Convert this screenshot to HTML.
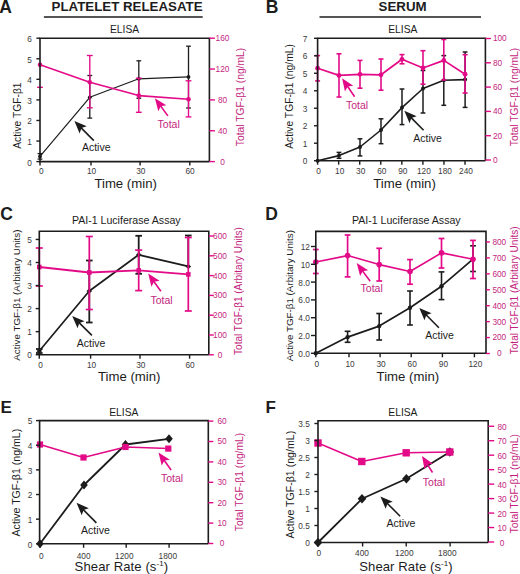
<!DOCTYPE html>
<html><head><meta charset="utf-8"><title>TGF-beta1 figure</title>
<style>
html,body{margin:0;padding:0;background:#fff;}
body{width:520px;height:574px;overflow:hidden;}
svg{display:block;font-family:"Liberation Sans", sans-serif;}
</style></head>
<body>
<svg width="520" height="574" viewBox="0 0 520 574">
<rect width="520" height="574" fill="#fff"/>

<line x1="40" y1="153.6" x2="40" y2="159.1" stroke="#1c1c1c" stroke-width="1.3" stroke-linecap="butt"/>
<line x1="37.6" y1="153.6" x2="42.4" y2="153.6" stroke="#1c1c1c" stroke-width="1.3" stroke-linecap="butt"/>
<line x1="37.6" y1="159.1" x2="42.4" y2="159.1" stroke="#1c1c1c" stroke-width="1.3" stroke-linecap="butt"/>
<line x1="89.8" y1="75.5" x2="89.8" y2="118.1" stroke="#1c1c1c" stroke-width="1.3" stroke-linecap="butt"/>
<line x1="87.4" y1="75.5" x2="92.2" y2="75.5" stroke="#1c1c1c" stroke-width="1.3" stroke-linecap="butt"/>
<line x1="87.4" y1="118.1" x2="92.2" y2="118.1" stroke="#1c1c1c" stroke-width="1.3" stroke-linecap="butt"/>
<line x1="138.8" y1="60.8" x2="138.8" y2="98.2" stroke="#1c1c1c" stroke-width="1.3" stroke-linecap="butt"/>
<line x1="136.4" y1="60.8" x2="141.2" y2="60.8" stroke="#1c1c1c" stroke-width="1.3" stroke-linecap="butt"/>
<line x1="136.4" y1="98.2" x2="141.2" y2="98.2" stroke="#1c1c1c" stroke-width="1.3" stroke-linecap="butt"/>
<line x1="188.5" y1="46.2" x2="188.5" y2="108" stroke="#1c1c1c" stroke-width="1.3" stroke-linecap="butt"/>
<line x1="186.1" y1="46.2" x2="190.9" y2="46.2" stroke="#1c1c1c" stroke-width="1.3" stroke-linecap="butt"/>
<line x1="186.1" y1="108" x2="190.9" y2="108" stroke="#1c1c1c" stroke-width="1.3" stroke-linecap="butt"/>
<line x1="339" y1="152.4" x2="339" y2="158.3" stroke="#1c1c1c" stroke-width="1.5" stroke-linecap="butt"/>
<line x1="336.6" y1="152.4" x2="341.4" y2="152.4" stroke="#1c1c1c" stroke-width="1.5" stroke-linecap="butt"/>
<line x1="336.6" y1="158.3" x2="341.4" y2="158.3" stroke="#1c1c1c" stroke-width="1.5" stroke-linecap="butt"/>
<line x1="360" y1="138.8" x2="360" y2="155.9" stroke="#1c1c1c" stroke-width="1.5" stroke-linecap="butt"/>
<line x1="357.6" y1="138.8" x2="362.4" y2="138.8" stroke="#1c1c1c" stroke-width="1.5" stroke-linecap="butt"/>
<line x1="357.6" y1="155.9" x2="362.4" y2="155.9" stroke="#1c1c1c" stroke-width="1.5" stroke-linecap="butt"/>
<line x1="381" y1="118.8" x2="381" y2="143.7" stroke="#1c1c1c" stroke-width="1.5" stroke-linecap="butt"/>
<line x1="378.6" y1="118.8" x2="383.4" y2="118.8" stroke="#1c1c1c" stroke-width="1.5" stroke-linecap="butt"/>
<line x1="378.6" y1="143.7" x2="383.4" y2="143.7" stroke="#1c1c1c" stroke-width="1.5" stroke-linecap="butt"/>
<line x1="402" y1="89" x2="402" y2="124.6" stroke="#1c1c1c" stroke-width="1.5" stroke-linecap="butt"/>
<line x1="399.6" y1="89" x2="404.4" y2="89" stroke="#1c1c1c" stroke-width="1.5" stroke-linecap="butt"/>
<line x1="399.6" y1="124.6" x2="404.4" y2="124.6" stroke="#1c1c1c" stroke-width="1.5" stroke-linecap="butt"/>
<line x1="423" y1="70.5" x2="423" y2="113" stroke="#1c1c1c" stroke-width="1.5" stroke-linecap="butt"/>
<line x1="420.6" y1="70.5" x2="425.4" y2="70.5" stroke="#1c1c1c" stroke-width="1.5" stroke-linecap="butt"/>
<line x1="420.6" y1="113" x2="425.4" y2="113" stroke="#1c1c1c" stroke-width="1.5" stroke-linecap="butt"/>
<line x1="443.8" y1="55.6" x2="443.8" y2="105.3" stroke="#1c1c1c" stroke-width="1.5" stroke-linecap="butt"/>
<line x1="441.4" y1="55.6" x2="446.2" y2="55.6" stroke="#1c1c1c" stroke-width="1.5" stroke-linecap="butt"/>
<line x1="441.4" y1="105.3" x2="446.2" y2="105.3" stroke="#1c1c1c" stroke-width="1.5" stroke-linecap="butt"/>
<line x1="465.1" y1="52" x2="465.1" y2="107.4" stroke="#1c1c1c" stroke-width="1.5" stroke-linecap="butt"/>
<line x1="462.7" y1="52" x2="467.5" y2="52" stroke="#1c1c1c" stroke-width="1.5" stroke-linecap="butt"/>
<line x1="462.7" y1="107.4" x2="467.5" y2="107.4" stroke="#1c1c1c" stroke-width="1.5" stroke-linecap="butt"/>
<line x1="39.3" y1="349" x2="39.3" y2="353" stroke="#1c1c1c" stroke-width="1.8" stroke-linecap="butt"/>
<line x1="36" y1="349" x2="42.6" y2="349" stroke="#1c1c1c" stroke-width="1.8" stroke-linecap="butt"/>
<line x1="36" y1="353" x2="42.6" y2="353" stroke="#1c1c1c" stroke-width="1.8" stroke-linecap="butt"/>
<line x1="89.3" y1="260.5" x2="89.3" y2="322.5" stroke="#1c1c1c" stroke-width="1.8" stroke-linecap="butt"/>
<line x1="86" y1="260.5" x2="92.6" y2="260.5" stroke="#1c1c1c" stroke-width="1.8" stroke-linecap="butt"/>
<line x1="86" y1="322.5" x2="92.6" y2="322.5" stroke="#1c1c1c" stroke-width="1.8" stroke-linecap="butt"/>
<line x1="138.7" y1="235.8" x2="138.7" y2="273.8" stroke="#1c1c1c" stroke-width="1.8" stroke-linecap="butt"/>
<line x1="135.4" y1="235.8" x2="142" y2="235.8" stroke="#1c1c1c" stroke-width="1.8" stroke-linecap="butt"/>
<line x1="135.4" y1="273.8" x2="142" y2="273.8" stroke="#1c1c1c" stroke-width="1.8" stroke-linecap="butt"/>
<line x1="188.3" y1="235.5" x2="188.3" y2="266.4" stroke="#1c1c1c" stroke-width="1.8"/>
<line x1="185" y1="235.5" x2="191.6" y2="235.5" stroke="#1c1c1c" stroke-width="1.8"/>
<line x1="347.6" y1="331.3" x2="347.6" y2="342.3" stroke="#1c1c1c" stroke-width="1.6" stroke-linecap="butt"/>
<line x1="344.7" y1="331.3" x2="350.5" y2="331.3" stroke="#1c1c1c" stroke-width="1.6" stroke-linecap="butt"/>
<line x1="344.7" y1="342.3" x2="350.5" y2="342.3" stroke="#1c1c1c" stroke-width="1.6" stroke-linecap="butt"/>
<line x1="379.2" y1="313.5" x2="379.2" y2="340" stroke="#1c1c1c" stroke-width="1.6" stroke-linecap="butt"/>
<line x1="376.3" y1="313.5" x2="382.1" y2="313.5" stroke="#1c1c1c" stroke-width="1.6" stroke-linecap="butt"/>
<line x1="376.3" y1="340" x2="382.1" y2="340" stroke="#1c1c1c" stroke-width="1.6" stroke-linecap="butt"/>
<line x1="410" y1="291" x2="410" y2="325" stroke="#1c1c1c" stroke-width="1.6" stroke-linecap="butt"/>
<line x1="407.1" y1="291" x2="412.9" y2="291" stroke="#1c1c1c" stroke-width="1.6" stroke-linecap="butt"/>
<line x1="407.1" y1="325" x2="412.9" y2="325" stroke="#1c1c1c" stroke-width="1.6" stroke-linecap="butt"/>
<line x1="441.5" y1="271.9" x2="441.5" y2="299.6" stroke="#1c1c1c" stroke-width="1.6" stroke-linecap="butt"/>
<line x1="438.6" y1="271.9" x2="444.4" y2="271.9" stroke="#1c1c1c" stroke-width="1.6" stroke-linecap="butt"/>
<line x1="438.6" y1="299.6" x2="444.4" y2="299.6" stroke="#1c1c1c" stroke-width="1.6" stroke-linecap="butt"/>
<line x1="473" y1="245.8" x2="473" y2="271.5" stroke="#1c1c1c" stroke-width="1.6" stroke-linecap="butt"/>
<line x1="470.1" y1="245.8" x2="475.9" y2="245.8" stroke="#1c1c1c" stroke-width="1.6" stroke-linecap="butt"/>
<line x1="470.1" y1="271.5" x2="475.9" y2="271.5" stroke="#1c1c1c" stroke-width="1.6" stroke-linecap="butt"/>
<polyline points="40,156.4 89.8,97.3 138.8,78.8 188.5,76.9" fill="none" stroke="#1c1c1c" stroke-width="1.2" stroke-linejoin="round"/>
<polyline points="317.6,160.7 339,155.6 360,147 381,130 402,107.6 423,88.5 443.8,80.3 465.1,79.6" fill="none" stroke="#1c1c1c" stroke-width="1.6" stroke-linejoin="round"/>
<polyline points="39.3,351 89.3,291 138.7,254.8 188.3,266.4" fill="none" stroke="#1c1c1c" stroke-width="1.7" stroke-linejoin="round"/>
<polyline points="315.8,353.3 347.6,337.1 379.2,326.1 410,307.7 441.5,286.2 473,259.2" fill="none" stroke="#1c1c1c" stroke-width="1.7" stroke-linejoin="round"/>
<polyline points="40,543.8 84,485 125.5,444.5 169,438.8" fill="none" stroke="#1c1c1c" stroke-width="1.8" stroke-linejoin="round"/>
<polyline points="318,542.5 362,498.8 406.4,478.8 449.8,452" fill="none" stroke="#1c1c1c" stroke-width="1.8" stroke-linejoin="round"/>
<circle cx="40" cy="156.4" r="1.9" fill="#1c1c1c"/>
<circle cx="89.8" cy="97.3" r="1.9" fill="#1c1c1c"/>
<circle cx="138.8" cy="78.8" r="1.9" fill="#1c1c1c"/>
<circle cx="188.5" cy="76.9" r="1.9" fill="#1c1c1c"/>
<circle cx="317.6" cy="160.7" r="2.0" fill="#1c1c1c"/>
<circle cx="339" cy="155.6" r="2.0" fill="#1c1c1c"/>
<circle cx="360" cy="147" r="2.0" fill="#1c1c1c"/>
<circle cx="381" cy="130" r="2.0" fill="#1c1c1c"/>
<circle cx="402" cy="107.6" r="2.0" fill="#1c1c1c"/>
<circle cx="423" cy="88.5" r="2.0" fill="#1c1c1c"/>
<circle cx="443.8" cy="80.3" r="2.0" fill="#1c1c1c"/>
<circle cx="465.1" cy="79.6" r="2.0" fill="#1c1c1c"/>
<polygon points="39.3,348.5 42.1,351 39.3,353.5 36.5,351" fill="#1c1c1c"/>
<polygon points="89.3,288.5 92.1,291 89.3,293.5 86.5,291" fill="#1c1c1c"/>
<polygon points="138.7,252.3 141.5,254.8 138.7,257.3 135.9,254.8" fill="#1c1c1c"/>
<polygon points="188.3,263.9 191.1,266.4 188.3,268.9 185.5,266.4" fill="#1c1c1c"/>
<circle cx="315.8" cy="353.3" r="2.2" fill="#1c1c1c"/>
<circle cx="347.6" cy="337.1" r="2.2" fill="#1c1c1c"/>
<circle cx="379.2" cy="326.1" r="2.2" fill="#1c1c1c"/>
<circle cx="410" cy="307.7" r="2.2" fill="#1c1c1c"/>
<circle cx="441.5" cy="286.2" r="2.2" fill="#1c1c1c"/>
<circle cx="473" cy="259.2" r="2.2" fill="#1c1c1c"/>
<polygon points="40,539.3 43.8,543.8 40,548.3 36.2,543.8" fill="#1c1c1c"/>
<polygon points="84,480.5 87.8,485 84,489.5 80.2,485" fill="#1c1c1c"/>
<polygon points="125.5,440 129.3,444.5 125.5,449 121.7,444.5" fill="#1c1c1c"/>
<polygon points="169,434.3 172.8,438.8 169,443.3 165.2,438.8" fill="#1c1c1c"/>
<polygon points="318,537.8 322.3,542.5 318,547.2 313.7,542.5" fill="#1c1c1c"/>
<polygon points="362,494.1 366.3,498.8 362,503.5 357.7,498.8" fill="#1c1c1c"/>
<polygon points="406.4,474.1 410.7,478.8 406.4,483.5 402.1,478.8" fill="#1c1c1c"/>
<polygon points="449.8,447.3 454.1,452 449.8,456.7 445.5,452" fill="#1c1c1c"/>
<line x1="37.1" y1="87.3" x2="42.9" y2="87.3" stroke="#e30a88" stroke-width="1.35" stroke-linecap="butt"/>
<line x1="89.8" y1="55.5" x2="89.8" y2="107.8" stroke="#e30a88" stroke-width="1.35" stroke-linecap="butt"/>
<line x1="86.9" y1="55.5" x2="92.7" y2="55.5" stroke="#e30a88" stroke-width="1.35" stroke-linecap="butt"/>
<line x1="86.9" y1="107.8" x2="92.7" y2="107.8" stroke="#e30a88" stroke-width="1.35" stroke-linecap="butt"/>
<line x1="138.8" y1="78.2" x2="138.8" y2="112.3" stroke="#e30a88" stroke-width="1.35" stroke-linecap="butt"/>
<line x1="135.9" y1="78.2" x2="141.7" y2="78.2" stroke="#e30a88" stroke-width="1.35" stroke-linecap="butt"/>
<line x1="135.9" y1="112.3" x2="141.7" y2="112.3" stroke="#e30a88" stroke-width="1.35" stroke-linecap="butt"/>
<line x1="188.5" y1="80.8" x2="188.5" y2="116.9" stroke="#e30a88" stroke-width="1.35" stroke-linecap="butt"/>
<line x1="185.6" y1="80.8" x2="191.4" y2="80.8" stroke="#e30a88" stroke-width="1.35" stroke-linecap="butt"/>
<line x1="185.6" y1="116.9" x2="191.4" y2="116.9" stroke="#e30a88" stroke-width="1.35" stroke-linecap="butt"/>
<line x1="317.6" y1="55.6" x2="317.6" y2="80.9" stroke="#e30a88" stroke-width="1.6" stroke-linecap="butt"/>
<line x1="315.1" y1="55.6" x2="320.1" y2="55.6" stroke="#e30a88" stroke-width="1.6" stroke-linecap="butt"/>
<line x1="315.1" y1="80.9" x2="320.1" y2="80.9" stroke="#e30a88" stroke-width="1.6" stroke-linecap="butt"/>
<line x1="339" y1="53.8" x2="339" y2="97" stroke="#e30a88" stroke-width="1.6" stroke-linecap="butt"/>
<line x1="336.5" y1="53.8" x2="341.5" y2="53.8" stroke="#e30a88" stroke-width="1.6" stroke-linecap="butt"/>
<line x1="336.5" y1="97" x2="341.5" y2="97" stroke="#e30a88" stroke-width="1.6" stroke-linecap="butt"/>
<line x1="360" y1="60.4" x2="360" y2="88.2" stroke="#e30a88" stroke-width="1.6" stroke-linecap="butt"/>
<line x1="357.5" y1="60.4" x2="362.5" y2="60.4" stroke="#e30a88" stroke-width="1.6" stroke-linecap="butt"/>
<line x1="357.5" y1="88.2" x2="362.5" y2="88.2" stroke="#e30a88" stroke-width="1.6" stroke-linecap="butt"/>
<line x1="381" y1="59" x2="381" y2="90.2" stroke="#e30a88" stroke-width="1.6" stroke-linecap="butt"/>
<line x1="378.5" y1="59" x2="383.5" y2="59" stroke="#e30a88" stroke-width="1.6" stroke-linecap="butt"/>
<line x1="378.5" y1="90.2" x2="383.5" y2="90.2" stroke="#e30a88" stroke-width="1.6" stroke-linecap="butt"/>
<line x1="402" y1="54.6" x2="402" y2="63.8" stroke="#e30a88" stroke-width="1.6" stroke-linecap="butt"/>
<line x1="399.5" y1="54.6" x2="404.5" y2="54.6" stroke="#e30a88" stroke-width="1.6" stroke-linecap="butt"/>
<line x1="399.5" y1="63.8" x2="404.5" y2="63.8" stroke="#e30a88" stroke-width="1.6" stroke-linecap="butt"/>
<line x1="423" y1="50.7" x2="423" y2="84.2" stroke="#e30a88" stroke-width="1.6" stroke-linecap="butt"/>
<line x1="420.5" y1="50.7" x2="425.5" y2="50.7" stroke="#e30a88" stroke-width="1.6" stroke-linecap="butt"/>
<line x1="420.5" y1="84.2" x2="425.5" y2="84.2" stroke="#e30a88" stroke-width="1.6" stroke-linecap="butt"/>
<line x1="443.8" y1="39.5" x2="443.8" y2="80" stroke="#e30a88" stroke-width="1.6" stroke-linecap="butt"/>
<line x1="441.3" y1="39.5" x2="446.3" y2="39.5" stroke="#e30a88" stroke-width="1.6" stroke-linecap="butt"/>
<line x1="441.3" y1="80" x2="446.3" y2="80" stroke="#e30a88" stroke-width="1.6" stroke-linecap="butt"/>
<line x1="465.1" y1="54.7" x2="465.1" y2="93" stroke="#e30a88" stroke-width="1.6" stroke-linecap="butt"/>
<line x1="462.6" y1="54.7" x2="467.6" y2="54.7" stroke="#e30a88" stroke-width="1.6" stroke-linecap="butt"/>
<line x1="462.6" y1="93" x2="467.6" y2="93" stroke="#e30a88" stroke-width="1.6" stroke-linecap="butt"/>
<line x1="39.3" y1="248" x2="39.3" y2="286" stroke="#e30a88" stroke-width="1.7" stroke-linecap="butt"/>
<line x1="35.8" y1="248" x2="42.8" y2="248" stroke="#e30a88" stroke-width="1.7" stroke-linecap="butt"/>
<line x1="35.8" y1="286" x2="42.8" y2="286" stroke="#e30a88" stroke-width="1.7" stroke-linecap="butt"/>
<line x1="89.3" y1="236.5" x2="89.3" y2="309.5" stroke="#e30a88" stroke-width="1.7" stroke-linecap="butt"/>
<line x1="85.8" y1="236.5" x2="92.8" y2="236.5" stroke="#e30a88" stroke-width="1.7" stroke-linecap="butt"/>
<line x1="85.8" y1="309.5" x2="92.8" y2="309.5" stroke="#e30a88" stroke-width="1.7" stroke-linecap="butt"/>
<line x1="138.7" y1="250.1" x2="138.7" y2="290.6" stroke="#e30a88" stroke-width="1.7" stroke-linecap="butt"/>
<line x1="135.2" y1="250.1" x2="142.2" y2="250.1" stroke="#e30a88" stroke-width="1.7" stroke-linecap="butt"/>
<line x1="135.2" y1="290.6" x2="142.2" y2="290.6" stroke="#e30a88" stroke-width="1.7" stroke-linecap="butt"/>
<line x1="188.3" y1="237.5" x2="188.3" y2="311" stroke="#e30a88" stroke-width="1.7" stroke-linecap="butt"/>
<line x1="184.8" y1="237.5" x2="191.8" y2="237.5" stroke="#e30a88" stroke-width="1.7" stroke-linecap="butt"/>
<line x1="184.8" y1="311" x2="191.8" y2="311" stroke="#e30a88" stroke-width="1.7" stroke-linecap="butt"/>
<line x1="315.8" y1="249.5" x2="315.8" y2="273.5" stroke="#e30a88" stroke-width="1.7" stroke-linecap="butt"/>
<line x1="312.9" y1="249.5" x2="318.7" y2="249.5" stroke="#e30a88" stroke-width="1.7" stroke-linecap="butt"/>
<line x1="312.9" y1="273.5" x2="318.7" y2="273.5" stroke="#e30a88" stroke-width="1.7" stroke-linecap="butt"/>
<line x1="347.6" y1="235" x2="347.6" y2="276.9" stroke="#e30a88" stroke-width="1.7" stroke-linecap="butt"/>
<line x1="344.7" y1="235" x2="350.5" y2="235" stroke="#e30a88" stroke-width="1.7" stroke-linecap="butt"/>
<line x1="344.7" y1="276.9" x2="350.5" y2="276.9" stroke="#e30a88" stroke-width="1.7" stroke-linecap="butt"/>
<line x1="379.2" y1="248.3" x2="379.2" y2="281" stroke="#e30a88" stroke-width="1.7" stroke-linecap="butt"/>
<line x1="376.3" y1="248.3" x2="382.1" y2="248.3" stroke="#e30a88" stroke-width="1.7" stroke-linecap="butt"/>
<line x1="376.3" y1="281" x2="382.1" y2="281" stroke="#e30a88" stroke-width="1.7" stroke-linecap="butt"/>
<line x1="410" y1="259.6" x2="410" y2="284.2" stroke="#e30a88" stroke-width="1.7" stroke-linecap="butt"/>
<line x1="407.1" y1="259.6" x2="412.9" y2="259.6" stroke="#e30a88" stroke-width="1.7" stroke-linecap="butt"/>
<line x1="407.1" y1="284.2" x2="412.9" y2="284.2" stroke="#e30a88" stroke-width="1.7" stroke-linecap="butt"/>
<line x1="441.5" y1="238.5" x2="441.5" y2="268" stroke="#e30a88" stroke-width="1.7" stroke-linecap="butt"/>
<line x1="438.6" y1="238.5" x2="444.4" y2="238.5" stroke="#e30a88" stroke-width="1.7" stroke-linecap="butt"/>
<line x1="438.6" y1="268" x2="444.4" y2="268" stroke="#e30a88" stroke-width="1.7" stroke-linecap="butt"/>
<line x1="473" y1="240.4" x2="473" y2="278.5" stroke="#e30a88" stroke-width="1.7" stroke-linecap="butt"/>
<line x1="470.1" y1="240.4" x2="475.9" y2="240.4" stroke="#e30a88" stroke-width="1.7" stroke-linecap="butt"/>
<line x1="470.1" y1="278.5" x2="475.9" y2="278.5" stroke="#e30a88" stroke-width="1.7" stroke-linecap="butt"/>
<polyline points="40,64.8 89.8,82.2 138.8,95.6 188.5,99.2" fill="none" stroke="#e30a88" stroke-width="1.6" stroke-linejoin="round"/>
<polyline points="317.6,68.2 339,75.4 360,74.3 381,74.8 402,59.3 423,68 443.8,60.4 465.1,74.2" fill="none" stroke="#e30a88" stroke-width="1.7" stroke-linejoin="round"/>
<polyline points="39.3,267 89.3,272.5 138.7,270.4 188.3,274.4" fill="none" stroke="#e30a88" stroke-width="1.8" stroke-linejoin="round"/>
<polyline points="315.8,262 347.6,255.6 379.2,264.6 410,271.5 441.5,252.9 473,259.2" fill="none" stroke="#e30a88" stroke-width="1.6" stroke-linejoin="round"/>
<polyline points="40,444.5 83.5,457.5 125.5,447 168.3,448.6" fill="none" stroke="#e30a88" stroke-width="1.5" stroke-linejoin="round"/>
<polyline points="318,443 361.8,461.5 406.2,452.8 449.8,452" fill="none" stroke="#e30a88" stroke-width="1.5" stroke-linejoin="round"/>
<circle cx="40" cy="64.8" r="2.3" fill="#e30a88"/>
<circle cx="89.8" cy="82.2" r="2.3" fill="#e30a88"/>
<circle cx="138.8" cy="95.6" r="2.3" fill="#e30a88"/>
<circle cx="188.5" cy="99.2" r="2.3" fill="#e30a88"/>
<circle cx="317.6" cy="68.2" r="2.4" fill="#e30a88"/>
<circle cx="339" cy="75.4" r="2.4" fill="#e30a88"/>
<circle cx="360" cy="74.3" r="2.4" fill="#e30a88"/>
<circle cx="381" cy="74.8" r="2.4" fill="#e30a88"/>
<circle cx="402" cy="59.3" r="2.4" fill="#e30a88"/>
<circle cx="423" cy="68" r="2.4" fill="#e30a88"/>
<circle cx="443.8" cy="60.4" r="2.4" fill="#e30a88"/>
<circle cx="465.1" cy="74.2" r="2.4" fill="#e30a88"/>
<rect x="37" y="264.7" width="4.6" height="4.6" fill="#e30a88"/>
<rect x="87" y="270.2" width="4.6" height="4.6" fill="#e30a88"/>
<rect x="136.4" y="268.1" width="4.6" height="4.6" fill="#e30a88"/>
<rect x="186" y="272.1" width="4.6" height="4.6" fill="#e30a88"/>
<circle cx="315.8" cy="262" r="2.8" fill="#e30a88"/>
<circle cx="347.6" cy="255.6" r="2.8" fill="#e30a88"/>
<circle cx="379.2" cy="264.6" r="2.8" fill="#e30a88"/>
<circle cx="410" cy="271.5" r="2.8" fill="#e30a88"/>
<circle cx="441.5" cy="252.9" r="2.8" fill="#e30a88"/>
<circle cx="473" cy="259.2" r="2.8" fill="#e30a88"/>
<rect x="36.9" y="441.4" width="6.2" height="6.2" fill="#e30a88"/>
<rect x="80.4" y="454.4" width="6.2" height="6.2" fill="#e30a88"/>
<rect x="122.4" y="443.9" width="6.2" height="6.2" fill="#e30a88"/>
<rect x="165.2" y="445.5" width="6.2" height="6.2" fill="#e30a88"/>
<rect x="314.3" y="439.3" width="7.4" height="7.4" fill="#e30a88"/>
<rect x="358.1" y="457.8" width="7.4" height="7.4" fill="#e30a88"/>
<rect x="402.5" y="449.1" width="7.4" height="7.4" fill="#e30a88"/>
<rect x="446.1" y="448.3" width="7.4" height="7.4" fill="#e30a88"/>



<path d="M209.4,161.6 L40,161.6 L40,38.2 L209.4,38.2 L209.4,161.6" fill="none" stroke="#1c1c1c" stroke-width="1.6" stroke-linejoin="miter"/>
<path d="M485.4,160.7 L317.6,160.7 L317.6,38.3 L485.4,38.3 L485.4,160.7" fill="none" stroke="#1c1c1c" stroke-width="1.6" stroke-linejoin="miter"/>
<path d="M208.8,354.7 L39.3,354.7 L39.3,231.2 L208.8,231.2 L208.8,354.7" fill="none" stroke="#1c1c1c" stroke-width="1.6" stroke-linejoin="miter"/>
<path d="M486,353.3 L315.8,353.3 L315.8,231.4 L486,231.4 L486,353.3" fill="none" stroke="#1c1c1c" stroke-width="1.6" stroke-linejoin="miter"/>
<path d="M208.3,543.8 L39.6,543.8 L39.6,420.6 L208.3,420.6 L208.3,543.8" fill="none" stroke="#1c1c1c" stroke-width="1.6" stroke-linejoin="miter"/>
<path d="M488.2,542.5 L318,542.5 L318,420.8 L488.2,420.8 L488.2,542.5" fill="none" stroke="#1c1c1c" stroke-width="1.6" stroke-linejoin="miter"/>
<text x="-0.8" y="12.5" font-size="17.5" fill="#1c1c1c" text-anchor="start" font-weight="bold">A</text>
<text x="265.8" y="12.5" font-size="17.5" fill="#1c1c1c" text-anchor="start" font-weight="bold">B</text>
<text x="0.2" y="220.2" font-size="17.5" fill="#1c1c1c" text-anchor="start" font-weight="bold">C</text>
<text x="265.2" y="220.2" font-size="17.5" fill="#1c1c1c" text-anchor="start" font-weight="bold">D</text>
<text x="0.5" y="412.6" font-size="17.0" fill="#1c1c1c" text-anchor="start" font-weight="bold">E</text>
<text x="265.5" y="412.6" font-size="17.0" fill="#1c1c1c" text-anchor="start" font-weight="bold">F</text>
<text x="51.6" y="11" font-size="13.3" fill="#1c1c1c" text-anchor="start" font-weight="bold">PLATELET RELEASATE</text>
<line x1="43.9" y1="17" x2="202.7" y2="17" stroke="#1c1c1c" stroke-width="1.6" stroke-linecap="butt"/>
<text x="378.6" y="11" font-size="13.3" fill="#1c1c1c" text-anchor="start" font-weight="bold">SERUM</text>
<line x1="319.5" y1="17" x2="481" y2="17" stroke="#1c1c1c" stroke-width="1.6" stroke-linecap="butt"/>
<text x="110" y="33.2" font-size="10.3" fill="#1c1c1c" text-anchor="start" font-weight="normal">ELISA</text>
<line x1="36.4" y1="161.6" x2="40" y2="161.6" stroke="#1c1c1c" stroke-width="1.4" stroke-linecap="butt"/>
<text x="29.6" y="165.5" font-size="8.3" fill="#3a3a3a" text-anchor="middle" font-weight="normal">0</text>
<line x1="36.4" y1="141.03" x2="40" y2="141.03" stroke="#1c1c1c" stroke-width="1.4" stroke-linecap="butt"/>
<text x="29.6" y="144.93" font-size="8.3" fill="#3a3a3a" text-anchor="middle" font-weight="normal">1</text>
<line x1="36.4" y1="120.47" x2="40" y2="120.47" stroke="#1c1c1c" stroke-width="1.4" stroke-linecap="butt"/>
<text x="29.6" y="124.37" font-size="8.3" fill="#3a3a3a" text-anchor="middle" font-weight="normal">2</text>
<line x1="36.4" y1="99.9" x2="40" y2="99.9" stroke="#1c1c1c" stroke-width="1.4" stroke-linecap="butt"/>
<text x="29.6" y="103.8" font-size="8.3" fill="#3a3a3a" text-anchor="middle" font-weight="normal">3</text>
<line x1="36.4" y1="79.33" x2="40" y2="79.33" stroke="#1c1c1c" stroke-width="1.4" stroke-linecap="butt"/>
<text x="29.6" y="83.23" font-size="8.3" fill="#3a3a3a" text-anchor="middle" font-weight="normal">4</text>
<line x1="36.4" y1="58.77" x2="40" y2="58.77" stroke="#1c1c1c" stroke-width="1.4" stroke-linecap="butt"/>
<text x="29.6" y="62.67" font-size="8.3" fill="#3a3a3a" text-anchor="middle" font-weight="normal">5</text>
<line x1="36.4" y1="38.2" x2="40" y2="38.2" stroke="#1c1c1c" stroke-width="1.4" stroke-linecap="butt"/>
<text x="29.6" y="42.1" font-size="8.3" fill="#3a3a3a" text-anchor="middle" font-weight="normal">6</text>
<line x1="209.4" y1="161.6" x2="214.9" y2="161.6" stroke="#e30a88" stroke-width="1.4" stroke-linecap="butt"/>
<text x="222.5" y="164.5" font-size="8.3" fill="#c41f80" text-anchor="middle" font-weight="normal">0</text>
<line x1="209.4" y1="130.75" x2="214.9" y2="130.75" stroke="#e30a88" stroke-width="1.4" stroke-linecap="butt"/>
<text x="222.5" y="133.65" font-size="8.3" fill="#c41f80" text-anchor="middle" font-weight="normal">40</text>
<line x1="209.4" y1="99.9" x2="214.9" y2="99.9" stroke="#e30a88" stroke-width="1.4" stroke-linecap="butt"/>
<text x="222.5" y="102.8" font-size="8.3" fill="#c41f80" text-anchor="middle" font-weight="normal">80</text>
<line x1="209.4" y1="69.05" x2="214.9" y2="69.05" stroke="#e30a88" stroke-width="1.4" stroke-linecap="butt"/>
<text x="222.5" y="71.95" font-size="8.3" fill="#c41f80" text-anchor="middle" font-weight="normal">120</text>
<line x1="209.4" y1="38.2" x2="214.9" y2="38.2" stroke="#e30a88" stroke-width="1.4" stroke-linecap="butt"/>
<text x="222.5" y="41.1" font-size="8.3" fill="#c41f80" text-anchor="middle" font-weight="normal">160</text>
<line x1="40" y1="161.6" x2="40" y2="165.6" stroke="#1c1c1c" stroke-width="1.4" stroke-linecap="butt"/>
<text x="41.3" y="174.4" font-size="8.3" fill="#3a3a3a" text-anchor="middle" font-weight="normal">0</text>
<line x1="91" y1="161.6" x2="91" y2="165.6" stroke="#1c1c1c" stroke-width="1.4" stroke-linecap="butt"/>
<text x="91.6" y="174.4" font-size="8.3" fill="#3a3a3a" text-anchor="middle" font-weight="normal">10</text>
<line x1="140.1" y1="161.6" x2="140.1" y2="165.6" stroke="#1c1c1c" stroke-width="1.4" stroke-linecap="butt"/>
<text x="140.8" y="174.4" font-size="8.3" fill="#3a3a3a" text-anchor="middle" font-weight="normal">30</text>
<line x1="189.8" y1="161.6" x2="189.8" y2="165.6" stroke="#1c1c1c" stroke-width="1.4" stroke-linecap="butt"/>
<text x="190" y="174.4" font-size="8.3" fill="#3a3a3a" text-anchor="middle" font-weight="normal">60</text>
<text x="94.4" y="187.9" font-size="13.2" fill="#1c1c1c" text-anchor="start" font-weight="normal">Time (min)</text>
<text x="0" y="0" transform="translate(17,115.6) rotate(-90)" font-size="10.3" fill="#1c1c1c" text-anchor="middle" font-weight="normal" dominant-baseline="central">Active TGF-&#946;1</text>
<text x="0" y="0" transform="translate(240,97) rotate(-90)" font-size="10.3" fill="#c41f80" text-anchor="middle" font-weight="normal" dominant-baseline="central">Total TGF-&#946;1 (ng/mL)</text>
<line x1="79.68" y1="126.33" x2="93.8" y2="140.6" stroke="#1c1c1c" stroke-width="1.6" stroke-linecap="butt"/>
<polygon points="74.4,121 79.64,133.4 81.43,128.11 86.75,126.37" fill="#1c1c1c"/>
<text x="81.9" y="151.1" font-size="10.5" fill="#1c1c1c" text-anchor="start" font-weight="normal">Active</text>
<line x1="159.34" y1="104.24" x2="167.9" y2="115.9" stroke="#e30a88" stroke-width="1.6" stroke-linecap="butt"/>
<polygon points="154.9,98.2 158.27,111.23 160.82,106.26 166.33,105.31" fill="#e30a88"/>
<text x="157.6" y="127.8" font-size="10.5" fill="#c41f80" text-anchor="start" font-weight="normal">Total</text>
<text x="388.2" y="33.2" font-size="10.3" fill="#1c1c1c" text-anchor="start" font-weight="normal">ELISA</text>
<line x1="314" y1="160.7" x2="317.6" y2="160.7" stroke="#1c1c1c" stroke-width="1.4" stroke-linecap="butt"/>
<text x="305" y="164.1" font-size="8.3" fill="#3a3a3a" text-anchor="middle" font-weight="normal">0</text>
<line x1="314" y1="143.21" x2="317.6" y2="143.21" stroke="#1c1c1c" stroke-width="1.4" stroke-linecap="butt"/>
<text x="305" y="146.61" font-size="8.3" fill="#3a3a3a" text-anchor="middle" font-weight="normal">1</text>
<line x1="314" y1="125.73" x2="317.6" y2="125.73" stroke="#1c1c1c" stroke-width="1.4" stroke-linecap="butt"/>
<text x="305" y="129.13" font-size="8.3" fill="#3a3a3a" text-anchor="middle" font-weight="normal">2</text>
<line x1="314" y1="108.24" x2="317.6" y2="108.24" stroke="#1c1c1c" stroke-width="1.4" stroke-linecap="butt"/>
<text x="305" y="111.64" font-size="8.3" fill="#3a3a3a" text-anchor="middle" font-weight="normal">3</text>
<line x1="314" y1="90.76" x2="317.6" y2="90.76" stroke="#1c1c1c" stroke-width="1.4" stroke-linecap="butt"/>
<text x="305" y="94.16" font-size="8.3" fill="#3a3a3a" text-anchor="middle" font-weight="normal">4</text>
<line x1="314" y1="73.27" x2="317.6" y2="73.27" stroke="#1c1c1c" stroke-width="1.4" stroke-linecap="butt"/>
<text x="305" y="76.67" font-size="8.3" fill="#3a3a3a" text-anchor="middle" font-weight="normal">5</text>
<line x1="314" y1="55.79" x2="317.6" y2="55.79" stroke="#1c1c1c" stroke-width="1.4" stroke-linecap="butt"/>
<text x="305" y="59.19" font-size="8.3" fill="#3a3a3a" text-anchor="middle" font-weight="normal">6</text>
<line x1="314" y1="38.3" x2="317.6" y2="38.3" stroke="#1c1c1c" stroke-width="1.4" stroke-linecap="butt"/>
<text x="305" y="41.7" font-size="8.3" fill="#3a3a3a" text-anchor="middle" font-weight="normal">7</text>
<line x1="485.4" y1="160" x2="490.9" y2="160" stroke="#e30a88" stroke-width="1.4" stroke-linecap="butt"/>
<text x="492.9" y="162.9" font-size="8.3" fill="#c41f80" text-anchor="start" font-weight="normal">0</text>
<line x1="485.4" y1="135.7" x2="490.9" y2="135.7" stroke="#e30a88" stroke-width="1.4" stroke-linecap="butt"/>
<text x="492.9" y="138.6" font-size="8.3" fill="#c41f80" text-anchor="start" font-weight="normal">20</text>
<line x1="485.4" y1="111.4" x2="490.9" y2="111.4" stroke="#e30a88" stroke-width="1.4" stroke-linecap="butt"/>
<text x="492.9" y="114.3" font-size="8.3" fill="#c41f80" text-anchor="start" font-weight="normal">40</text>
<line x1="485.4" y1="87.1" x2="490.9" y2="87.1" stroke="#e30a88" stroke-width="1.4" stroke-linecap="butt"/>
<text x="492.9" y="90" font-size="8.3" fill="#c41f80" text-anchor="start" font-weight="normal">60</text>
<line x1="485.4" y1="62.8" x2="490.9" y2="62.8" stroke="#e30a88" stroke-width="1.4" stroke-linecap="butt"/>
<text x="492.9" y="65.7" font-size="8.3" fill="#c41f80" text-anchor="start" font-weight="normal">80</text>
<line x1="485.4" y1="38.5" x2="490.9" y2="38.5" stroke="#e30a88" stroke-width="1.4" stroke-linecap="butt"/>
<text x="492.9" y="41.4" font-size="8.3" fill="#c41f80" text-anchor="start" font-weight="normal">100</text>
<line x1="317.6" y1="160.7" x2="317.6" y2="164.7" stroke="#1c1c1c" stroke-width="1.4" stroke-linecap="butt"/>
<text x="318.6" y="174.2" font-size="8.3" fill="#3a3a3a" text-anchor="middle" font-weight="normal">0</text>
<line x1="338.66" y1="160.7" x2="338.66" y2="164.7" stroke="#1c1c1c" stroke-width="1.4" stroke-linecap="butt"/>
<text x="339.66" y="174.2" font-size="8.3" fill="#3a3a3a" text-anchor="middle" font-weight="normal">10</text>
<line x1="359.72" y1="160.7" x2="359.72" y2="164.7" stroke="#1c1c1c" stroke-width="1.4" stroke-linecap="butt"/>
<text x="360.72" y="174.2" font-size="8.3" fill="#3a3a3a" text-anchor="middle" font-weight="normal">30</text>
<line x1="380.78" y1="160.7" x2="380.78" y2="164.7" stroke="#1c1c1c" stroke-width="1.4" stroke-linecap="butt"/>
<text x="381.78" y="174.2" font-size="8.3" fill="#3a3a3a" text-anchor="middle" font-weight="normal">60</text>
<line x1="401.84" y1="160.7" x2="401.84" y2="164.7" stroke="#1c1c1c" stroke-width="1.4" stroke-linecap="butt"/>
<text x="402.84" y="174.2" font-size="8.3" fill="#3a3a3a" text-anchor="middle" font-weight="normal">90</text>
<line x1="422.9" y1="160.7" x2="422.9" y2="164.7" stroke="#1c1c1c" stroke-width="1.4" stroke-linecap="butt"/>
<text x="423.9" y="174.2" font-size="8.3" fill="#3a3a3a" text-anchor="middle" font-weight="normal">120</text>
<line x1="443.96" y1="160.7" x2="443.96" y2="164.7" stroke="#1c1c1c" stroke-width="1.4" stroke-linecap="butt"/>
<text x="444.96" y="174.2" font-size="8.3" fill="#3a3a3a" text-anchor="middle" font-weight="normal">180</text>
<line x1="465.02" y1="160.7" x2="465.02" y2="164.7" stroke="#1c1c1c" stroke-width="1.4" stroke-linecap="butt"/>
<text x="466.02" y="174.2" font-size="8.3" fill="#3a3a3a" text-anchor="middle" font-weight="normal">240</text>
<text x="373.3" y="187.9" font-size="13.2" fill="#1c1c1c" text-anchor="start" font-weight="normal">Time (min)</text>
<text x="0" y="0" transform="translate(289.8,96.5) rotate(-90)" font-size="10.3" fill="#1c1c1c" text-anchor="middle" font-weight="normal" dominant-baseline="central">Active TGF-&#946;1 (ng/mL)</text>
<text x="0" y="0" transform="translate(514,97) rotate(-90)" font-size="10.3" fill="#c41f80" text-anchor="middle" font-weight="normal" dominant-baseline="central">Total TGF-&#946;1 (ng/mL)</text>
<line x1="346.3" y1="84.51" x2="354.6" y2="96.8" stroke="#e30a88" stroke-width="1.6" stroke-linecap="butt"/>
<polygon points="342.1,78.3 344.96,91.46 347.7,86.59 353.24,85.86" fill="#e30a88"/>
<text x="345.9" y="109.4" font-size="10.5" fill="#c41f80" text-anchor="start" font-weight="normal">Total</text>
<line x1="409.59" y1="116.12" x2="423.6" y2="130.2" stroke="#1c1c1c" stroke-width="1.6" stroke-linecap="butt"/>
<polygon points="404.3,110.8 409.57,123.19 411.35,117.89 416.66,116.14" fill="#1c1c1c"/>
<text x="413.3" y="141.7" font-size="10.5" fill="#1c1c1c" text-anchor="start" font-weight="normal">Active</text>
<text x="71.9" y="223.8" font-size="10.6" fill="#1c1c1c" text-anchor="start" font-weight="normal">PAI-1 Luciferase Assay</text>
<line x1="35.7" y1="354.7" x2="39.3" y2="354.7" stroke="#1c1c1c" stroke-width="1.4" stroke-linecap="butt"/>
<text x="29.5" y="358.1" font-size="8.3" fill="#3a3a3a" text-anchor="middle" font-weight="normal">0</text>
<line x1="35.7" y1="331.65" x2="39.3" y2="331.65" stroke="#1c1c1c" stroke-width="1.4" stroke-linecap="butt"/>
<text x="29.5" y="335.05" font-size="8.3" fill="#3a3a3a" text-anchor="middle" font-weight="normal">1</text>
<line x1="35.7" y1="308.6" x2="39.3" y2="308.6" stroke="#1c1c1c" stroke-width="1.4" stroke-linecap="butt"/>
<text x="29.5" y="312" font-size="8.3" fill="#3a3a3a" text-anchor="middle" font-weight="normal">2</text>
<line x1="35.7" y1="285.55" x2="39.3" y2="285.55" stroke="#1c1c1c" stroke-width="1.4" stroke-linecap="butt"/>
<text x="29.5" y="288.95" font-size="8.3" fill="#3a3a3a" text-anchor="middle" font-weight="normal">3</text>
<line x1="35.7" y1="262.5" x2="39.3" y2="262.5" stroke="#1c1c1c" stroke-width="1.4" stroke-linecap="butt"/>
<text x="29.5" y="265.9" font-size="8.3" fill="#3a3a3a" text-anchor="middle" font-weight="normal">4</text>
<line x1="35.7" y1="239.45" x2="39.3" y2="239.45" stroke="#1c1c1c" stroke-width="1.4" stroke-linecap="butt"/>
<text x="29.5" y="242.85" font-size="8.3" fill="#3a3a3a" text-anchor="middle" font-weight="normal">5</text>
<line x1="208.8" y1="354.8" x2="213.8" y2="354.8" stroke="#e30a88" stroke-width="1.4" stroke-linecap="butt"/>
<text x="220" y="357.7" font-size="8.3" fill="#c41f80" text-anchor="middle" font-weight="normal">0</text>
<line x1="208.8" y1="335" x2="213.8" y2="335" stroke="#e30a88" stroke-width="1.4" stroke-linecap="butt"/>
<text x="220" y="337.9" font-size="8.3" fill="#c41f80" text-anchor="middle" font-weight="normal">100</text>
<line x1="208.8" y1="315.2" x2="213.8" y2="315.2" stroke="#e30a88" stroke-width="1.4" stroke-linecap="butt"/>
<text x="220" y="318.1" font-size="8.3" fill="#c41f80" text-anchor="middle" font-weight="normal">200</text>
<line x1="208.8" y1="295.4" x2="213.8" y2="295.4" stroke="#e30a88" stroke-width="1.4" stroke-linecap="butt"/>
<text x="220" y="298.3" font-size="8.3" fill="#c41f80" text-anchor="middle" font-weight="normal">300</text>
<line x1="208.8" y1="275.6" x2="213.8" y2="275.6" stroke="#e30a88" stroke-width="1.4" stroke-linecap="butt"/>
<text x="220" y="278.5" font-size="8.3" fill="#c41f80" text-anchor="middle" font-weight="normal">400</text>
<line x1="208.8" y1="255.8" x2="213.8" y2="255.8" stroke="#e30a88" stroke-width="1.4" stroke-linecap="butt"/>
<text x="220" y="258.7" font-size="8.3" fill="#c41f80" text-anchor="middle" font-weight="normal">500</text>
<line x1="208.8" y1="236" x2="213.8" y2="236" stroke="#e30a88" stroke-width="1.4" stroke-linecap="butt"/>
<text x="220" y="238.9" font-size="8.3" fill="#c41f80" text-anchor="middle" font-weight="normal">600</text>
<line x1="39.3" y1="354.7" x2="39.3" y2="358.7" stroke="#1c1c1c" stroke-width="1.4" stroke-linecap="butt"/>
<text x="40.5" y="367.6" font-size="8.3" fill="#3a3a3a" text-anchor="middle" font-weight="normal">0</text>
<line x1="90.6" y1="354.7" x2="90.6" y2="358.7" stroke="#1c1c1c" stroke-width="1.4" stroke-linecap="butt"/>
<text x="91.6" y="367.6" font-size="8.3" fill="#3a3a3a" text-anchor="middle" font-weight="normal">10</text>
<line x1="140" y1="354.7" x2="140" y2="358.7" stroke="#1c1c1c" stroke-width="1.4" stroke-linecap="butt"/>
<text x="140.8" y="367.6" font-size="8.3" fill="#3a3a3a" text-anchor="middle" font-weight="normal">30</text>
<line x1="189.6" y1="354.7" x2="189.6" y2="358.7" stroke="#1c1c1c" stroke-width="1.4" stroke-linecap="butt"/>
<text x="190" y="367.6" font-size="8.3" fill="#3a3a3a" text-anchor="middle" font-weight="normal">60</text>
<text x="98" y="380.5" font-size="13.2" fill="#1c1c1c" text-anchor="start" font-weight="normal">Time (min)</text>
<text x="0" y="0" transform="translate(16,295.2) rotate(-90)" font-size="9.8" fill="#1c1c1c" text-anchor="middle" font-weight="normal" dominant-baseline="central">Active TGF-&#946;1 (Arbitary Units)</text>
<text x="0" y="0" transform="translate(238,291) rotate(-90)" font-size="10.0" fill="#c41f80" text-anchor="middle" font-weight="normal" dominant-baseline="central">Total TGF-&#946;1 (Arbitary Units)</text>
<line x1="77.53" y1="321.18" x2="91.9" y2="335.4" stroke="#1c1c1c" stroke-width="1.6" stroke-linecap="butt"/>
<polygon points="72.2,315.9 77.57,328.25 79.31,322.93 84.6,321.14" fill="#1c1c1c"/>
<text x="76.8" y="346.9" font-size="10.5" fill="#1c1c1c" text-anchor="start" font-weight="normal">Active</text>
<line x1="152.57" y1="279.69" x2="160.9" y2="291.3" stroke="#e30a88" stroke-width="1.6" stroke-linecap="butt"/>
<polygon points="148.2,273.6 151.42,286.67 154.03,281.72 159.55,280.84" fill="#e30a88"/>
<text x="150.5" y="303.7" font-size="10.5" fill="#c41f80" text-anchor="start" font-weight="normal">Total</text>
<text x="351.9" y="223.8" font-size="10.6" fill="#1c1c1c" text-anchor="start" font-weight="normal">PAI-1 Luciferase Assay</text>
<line x1="311" y1="353.3" x2="315.8" y2="353.3" stroke="#1c1c1c" stroke-width="1.4" stroke-linecap="butt"/>
<text x="309.9" y="356.7" font-size="8.3" fill="#3a3a3a" text-anchor="end" font-weight="normal">0.0</text>
<line x1="311" y1="335.5" x2="315.8" y2="335.5" stroke="#1c1c1c" stroke-width="1.4" stroke-linecap="butt"/>
<text x="309.9" y="338.9" font-size="8.3" fill="#3a3a3a" text-anchor="end" font-weight="normal">2.0</text>
<line x1="311" y1="317.7" x2="315.8" y2="317.7" stroke="#1c1c1c" stroke-width="1.4" stroke-linecap="butt"/>
<text x="309.9" y="321.1" font-size="8.3" fill="#3a3a3a" text-anchor="end" font-weight="normal">4.0</text>
<line x1="311" y1="299.9" x2="315.8" y2="299.9" stroke="#1c1c1c" stroke-width="1.4" stroke-linecap="butt"/>
<text x="309.9" y="303.3" font-size="8.3" fill="#3a3a3a" text-anchor="end" font-weight="normal">6.0</text>
<line x1="311" y1="282.1" x2="315.8" y2="282.1" stroke="#1c1c1c" stroke-width="1.4" stroke-linecap="butt"/>
<text x="309.9" y="285.5" font-size="8.3" fill="#3a3a3a" text-anchor="end" font-weight="normal">8.0</text>
<line x1="311" y1="264.3" x2="315.8" y2="264.3" stroke="#1c1c1c" stroke-width="1.4" stroke-linecap="butt"/>
<text x="309.9" y="267.7" font-size="8.3" fill="#3a3a3a" text-anchor="end" font-weight="normal">10</text>
<line x1="311" y1="246.5" x2="315.8" y2="246.5" stroke="#1c1c1c" stroke-width="1.4" stroke-linecap="butt"/>
<text x="309.9" y="249.9" font-size="8.3" fill="#3a3a3a" text-anchor="end" font-weight="normal">12</text>
<line x1="486" y1="242" x2="489.8" y2="242" stroke="#e30a88" stroke-width="1.4" stroke-linecap="butt"/>
<text x="499.3" y="244.9" font-size="8.3" fill="#c41f80" text-anchor="middle" font-weight="normal">800</text>
<line x1="486" y1="257.93" x2="489.8" y2="257.93" stroke="#e30a88" stroke-width="1.4" stroke-linecap="butt"/>
<text x="499.3" y="260.83" font-size="8.3" fill="#c41f80" text-anchor="middle" font-weight="normal">700</text>
<line x1="486" y1="273.86" x2="489.8" y2="273.86" stroke="#e30a88" stroke-width="1.4" stroke-linecap="butt"/>
<text x="499.3" y="276.76" font-size="8.3" fill="#c41f80" text-anchor="middle" font-weight="normal">600</text>
<line x1="486" y1="289.79" x2="489.8" y2="289.79" stroke="#e30a88" stroke-width="1.4" stroke-linecap="butt"/>
<text x="499.3" y="292.69" font-size="8.3" fill="#c41f80" text-anchor="middle" font-weight="normal">500</text>
<line x1="486" y1="305.72" x2="489.8" y2="305.72" stroke="#e30a88" stroke-width="1.4" stroke-linecap="butt"/>
<text x="499.3" y="308.62" font-size="8.3" fill="#c41f80" text-anchor="middle" font-weight="normal">400</text>
<line x1="486" y1="321.65" x2="489.8" y2="321.65" stroke="#e30a88" stroke-width="1.4" stroke-linecap="butt"/>
<text x="499.3" y="324.55" font-size="8.3" fill="#c41f80" text-anchor="middle" font-weight="normal">300</text>
<line x1="486" y1="337.58" x2="489.8" y2="337.58" stroke="#e30a88" stroke-width="1.4" stroke-linecap="butt"/>
<text x="499.3" y="340.48" font-size="8.3" fill="#c41f80" text-anchor="middle" font-weight="normal">200</text>
<line x1="486" y1="353.51" x2="489.8" y2="353.51" stroke="#e30a88" stroke-width="1.4" stroke-linecap="butt"/>
<text x="499.3" y="356.41" font-size="8.3" fill="#c41f80" text-anchor="middle" font-weight="normal">0</text>
<line x1="315.8" y1="353.3" x2="315.8" y2="357.3" stroke="#1c1c1c" stroke-width="1.4" stroke-linecap="butt"/>
<text x="316.8" y="367.2" font-size="8.3" fill="#3a3a3a" text-anchor="middle" font-weight="normal">0</text>
<line x1="349" y1="353.3" x2="349" y2="357.3" stroke="#1c1c1c" stroke-width="1.4" stroke-linecap="butt"/>
<text x="350" y="367.2" font-size="8.3" fill="#3a3a3a" text-anchor="middle" font-weight="normal">10</text>
<line x1="380.1" y1="353.3" x2="380.1" y2="357.3" stroke="#1c1c1c" stroke-width="1.4" stroke-linecap="butt"/>
<text x="381.1" y="367.2" font-size="8.3" fill="#3a3a3a" text-anchor="middle" font-weight="normal">30</text>
<line x1="411.2" y1="353.3" x2="411.2" y2="357.3" stroke="#1c1c1c" stroke-width="1.4" stroke-linecap="butt"/>
<text x="412.2" y="367.2" font-size="8.3" fill="#3a3a3a" text-anchor="middle" font-weight="normal">60</text>
<line x1="442.4" y1="353.3" x2="442.4" y2="357.3" stroke="#1c1c1c" stroke-width="1.4" stroke-linecap="butt"/>
<text x="443.4" y="367.2" font-size="8.3" fill="#3a3a3a" text-anchor="middle" font-weight="normal">90</text>
<line x1="474.4" y1="353.3" x2="474.4" y2="357.3" stroke="#1c1c1c" stroke-width="1.4" stroke-linecap="butt"/>
<text x="475.4" y="367.2" font-size="8.3" fill="#3a3a3a" text-anchor="middle" font-weight="normal">120</text>
<text x="376.6" y="380.5" font-size="13.2" fill="#1c1c1c" text-anchor="start" font-weight="normal">Time (min)</text>
<text x="0" y="0" transform="translate(289.2,295.7) rotate(-90)" font-size="9.8" fill="#1c1c1c" text-anchor="middle" font-weight="normal" dominant-baseline="central">Active TGF-&#946;1 (Arbitary Units)</text>
<text x="0" y="0" transform="translate(514.9,290.3) rotate(-90)" font-size="10.0" fill="#c41f80" text-anchor="middle" font-weight="normal" dominant-baseline="central">Total TGF-&#946;1 (Arbitary Units)</text>
<line x1="361.17" y1="269.12" x2="370.2" y2="281.3" stroke="#e30a88" stroke-width="1.6" stroke-linecap="butt"/>
<polygon points="356.7,263.1 360.13,276.12 362.66,271.13 368.16,270.16" fill="#e30a88"/>
<text x="360.6" y="291.9" font-size="10.5" fill="#c41f80" text-anchor="start" font-weight="normal">Total</text>
<line x1="424.56" y1="313.24" x2="438.9" y2="327.8" stroke="#1c1c1c" stroke-width="1.6" stroke-linecap="butt"/>
<polygon points="419.3,307.9 424.51,320.31 426.32,315.02 431.63,313.3" fill="#1c1c1c"/>
<text x="425.3" y="338.6" font-size="10.5" fill="#1c1c1c" text-anchor="start" font-weight="normal">Active</text>
<text x="109.2" y="416" font-size="10.3" fill="#1c1c1c" text-anchor="start" font-weight="normal">ELISA</text>
<line x1="36" y1="543.8" x2="39.6" y2="543.8" stroke="#1c1c1c" stroke-width="1.4" stroke-linecap="butt"/>
<text x="30" y="547.6" font-size="8.3" fill="#3a3a3a" text-anchor="middle" font-weight="normal">0</text>
<line x1="36" y1="519.16" x2="39.6" y2="519.16" stroke="#1c1c1c" stroke-width="1.4" stroke-linecap="butt"/>
<text x="30" y="522.96" font-size="8.3" fill="#3a3a3a" text-anchor="middle" font-weight="normal">1</text>
<line x1="36" y1="494.52" x2="39.6" y2="494.52" stroke="#1c1c1c" stroke-width="1.4" stroke-linecap="butt"/>
<text x="30" y="498.32" font-size="8.3" fill="#3a3a3a" text-anchor="middle" font-weight="normal">2</text>
<line x1="36" y1="469.88" x2="39.6" y2="469.88" stroke="#1c1c1c" stroke-width="1.4" stroke-linecap="butt"/>
<text x="30" y="473.68" font-size="8.3" fill="#3a3a3a" text-anchor="middle" font-weight="normal">3</text>
<line x1="36" y1="445.24" x2="39.6" y2="445.24" stroke="#1c1c1c" stroke-width="1.4" stroke-linecap="butt"/>
<text x="30" y="449.04" font-size="8.3" fill="#3a3a3a" text-anchor="middle" font-weight="normal">4</text>
<line x1="36" y1="420.6" x2="39.6" y2="420.6" stroke="#1c1c1c" stroke-width="1.4" stroke-linecap="butt"/>
<text x="30" y="424.4" font-size="8.3" fill="#3a3a3a" text-anchor="middle" font-weight="normal">5</text>
<line x1="208.3" y1="543.5" x2="213.3" y2="543.5" stroke="#e30a88" stroke-width="1.4" stroke-linecap="butt"/>
<text x="222" y="546.4" font-size="8.3" fill="#c41f80" text-anchor="middle" font-weight="normal">0</text>
<line x1="208.3" y1="523.1" x2="213.3" y2="523.1" stroke="#e30a88" stroke-width="1.4" stroke-linecap="butt"/>
<text x="222" y="526" font-size="8.3" fill="#c41f80" text-anchor="middle" font-weight="normal">10</text>
<line x1="208.3" y1="502.7" x2="213.3" y2="502.7" stroke="#e30a88" stroke-width="1.4" stroke-linecap="butt"/>
<text x="222" y="505.6" font-size="8.3" fill="#c41f80" text-anchor="middle" font-weight="normal">20</text>
<line x1="208.3" y1="482.3" x2="213.3" y2="482.3" stroke="#e30a88" stroke-width="1.4" stroke-linecap="butt"/>
<text x="222" y="485.2" font-size="8.3" fill="#c41f80" text-anchor="middle" font-weight="normal">30</text>
<line x1="208.3" y1="461.9" x2="213.3" y2="461.9" stroke="#e30a88" stroke-width="1.4" stroke-linecap="butt"/>
<text x="222" y="464.8" font-size="8.3" fill="#c41f80" text-anchor="middle" font-weight="normal">40</text>
<line x1="208.3" y1="441.5" x2="213.3" y2="441.5" stroke="#e30a88" stroke-width="1.4" stroke-linecap="butt"/>
<text x="222" y="444.4" font-size="8.3" fill="#c41f80" text-anchor="middle" font-weight="normal">50</text>
<line x1="208.3" y1="421.1" x2="213.3" y2="421.1" stroke="#e30a88" stroke-width="1.4" stroke-linecap="butt"/>
<text x="222" y="424" font-size="8.3" fill="#c41f80" text-anchor="middle" font-weight="normal">60</text>
<line x1="40" y1="543.8" x2="40" y2="547.8" stroke="#1c1c1c" stroke-width="1.4" stroke-linecap="butt"/>
<text x="41.4" y="559.2" font-size="8.3" fill="#3a3a3a" text-anchor="middle" font-weight="normal">0</text>
<line x1="83.6" y1="543.8" x2="83.6" y2="547.8" stroke="#1c1c1c" stroke-width="1.4" stroke-linecap="butt"/>
<text x="83.6" y="559.2" font-size="8.3" fill="#3a3a3a" text-anchor="middle" font-weight="normal">400</text>
<line x1="126.2" y1="543.8" x2="126.2" y2="547.8" stroke="#1c1c1c" stroke-width="1.4" stroke-linecap="butt"/>
<text x="124.3" y="559.2" font-size="8.3" fill="#3a3a3a" text-anchor="middle" font-weight="normal">1200</text>
<line x1="169.1" y1="543.8" x2="169.1" y2="547.8" stroke="#1c1c1c" stroke-width="1.4" stroke-linecap="butt"/>
<text x="167.8" y="559.2" font-size="8.3" fill="#3a3a3a" text-anchor="middle" font-weight="normal">1800</text>
<text x="74.6" y="570.9" font-size="13.1" fill="#1c1c1c" text-anchor="start" font-weight="normal" textLength="93.5" lengthAdjust="spacing">Shear Rate (s<tspan font-size="8" dy="-4.8">-1</tspan><tspan dy="4.8">)</tspan></text>
<text x="0" y="0" transform="translate(16.4,482.6) rotate(-90)" font-size="10.6" fill="#1c1c1c" text-anchor="middle" font-weight="normal" dominant-baseline="central">Active TGF-&#946;1 (ng/mL)</text>
<text x="0" y="0" transform="translate(239,482) rotate(-90)" font-size="10.3" fill="#c41f80" text-anchor="middle" font-weight="normal" dominant-baseline="central">Total TGF-&#946;1 (ng/mL)</text>
<line x1="81.78" y1="508.13" x2="96.4" y2="522.9" stroke="#1c1c1c" stroke-width="1.6" stroke-linecap="butt"/>
<polygon points="76.5,502.8 81.74,515.2 83.54,509.91 88.85,508.17" fill="#1c1c1c"/>
<text x="81" y="533.8" font-size="10.6" fill="#1c1c1c" text-anchor="start" font-weight="normal">Active</text>
<line x1="162.88" y1="458.59" x2="171.1" y2="470" stroke="#e30a88" stroke-width="1.6" stroke-linecap="butt"/>
<polygon points="158.5,452.5 161.75,465.57 164.34,460.62 169.86,459.72" fill="#e30a88"/>
<text x="160.9" y="481.7" font-size="10.5" fill="#c41f80" text-anchor="start" font-weight="normal">Total</text>
<text x="388.3" y="415.8" font-size="10.3" fill="#1c1c1c" text-anchor="start" font-weight="normal">ELISA</text>
<line x1="314.4" y1="542.5" x2="318" y2="542.5" stroke="#1c1c1c" stroke-width="1.4" stroke-linecap="butt"/>
<text x="309.8" y="545.9" font-size="8.3" fill="#3a3a3a" text-anchor="end" font-weight="normal">0</text>
<line x1="314.4" y1="525.5" x2="318" y2="525.5" stroke="#1c1c1c" stroke-width="1.4" stroke-linecap="butt"/>
<text x="309.8" y="528.9" font-size="8.3" fill="#3a3a3a" text-anchor="end" font-weight="normal">0.5</text>
<line x1="314.4" y1="508.5" x2="318" y2="508.5" stroke="#1c1c1c" stroke-width="1.4" stroke-linecap="butt"/>
<text x="309.8" y="511.9" font-size="8.3" fill="#3a3a3a" text-anchor="end" font-weight="normal">1</text>
<line x1="314.4" y1="491.5" x2="318" y2="491.5" stroke="#1c1c1c" stroke-width="1.4" stroke-linecap="butt"/>
<text x="309.8" y="494.9" font-size="8.3" fill="#3a3a3a" text-anchor="end" font-weight="normal">1.5</text>
<line x1="314.4" y1="474.5" x2="318" y2="474.5" stroke="#1c1c1c" stroke-width="1.4" stroke-linecap="butt"/>
<text x="309.8" y="477.9" font-size="8.3" fill="#3a3a3a" text-anchor="end" font-weight="normal">2</text>
<line x1="314.4" y1="457.5" x2="318" y2="457.5" stroke="#1c1c1c" stroke-width="1.4" stroke-linecap="butt"/>
<text x="309.8" y="460.9" font-size="8.3" fill="#3a3a3a" text-anchor="end" font-weight="normal">2.5</text>
<line x1="314.4" y1="440.5" x2="318" y2="440.5" stroke="#1c1c1c" stroke-width="1.4" stroke-linecap="butt"/>
<text x="309.8" y="443.9" font-size="8.3" fill="#3a3a3a" text-anchor="end" font-weight="normal">3</text>
<line x1="314.4" y1="423.5" x2="318" y2="423.5" stroke="#1c1c1c" stroke-width="1.4" stroke-linecap="butt"/>
<text x="309.8" y="426.9" font-size="8.3" fill="#3a3a3a" text-anchor="end" font-weight="normal">3.5</text>
<line x1="488.2" y1="542" x2="494.2" y2="542" stroke="#e30a88" stroke-width="1.4" stroke-linecap="butt"/>
<text x="502" y="545.5" font-size="8.3" fill="#c41f80" text-anchor="middle" font-weight="normal">0</text>
<line x1="488.2" y1="527.53" x2="494.2" y2="527.53" stroke="#e30a88" stroke-width="1.4" stroke-linecap="butt"/>
<text x="502" y="531.03" font-size="8.3" fill="#c41f80" text-anchor="middle" font-weight="normal">10</text>
<line x1="488.2" y1="513.06" x2="494.2" y2="513.06" stroke="#e30a88" stroke-width="1.4" stroke-linecap="butt"/>
<text x="502" y="516.56" font-size="8.3" fill="#c41f80" text-anchor="middle" font-weight="normal">20</text>
<line x1="488.2" y1="498.59" x2="494.2" y2="498.59" stroke="#e30a88" stroke-width="1.4" stroke-linecap="butt"/>
<text x="502" y="502.09" font-size="8.3" fill="#c41f80" text-anchor="middle" font-weight="normal">30</text>
<line x1="488.2" y1="484.12" x2="494.2" y2="484.12" stroke="#e30a88" stroke-width="1.4" stroke-linecap="butt"/>
<text x="502" y="487.62" font-size="8.3" fill="#c41f80" text-anchor="middle" font-weight="normal">40</text>
<line x1="488.2" y1="469.65" x2="494.2" y2="469.65" stroke="#e30a88" stroke-width="1.4" stroke-linecap="butt"/>
<text x="502" y="473.15" font-size="8.3" fill="#c41f80" text-anchor="middle" font-weight="normal">50</text>
<line x1="488.2" y1="455.18" x2="494.2" y2="455.18" stroke="#e30a88" stroke-width="1.4" stroke-linecap="butt"/>
<text x="502" y="458.68" font-size="8.3" fill="#c41f80" text-anchor="middle" font-weight="normal">60</text>
<line x1="488.2" y1="440.71" x2="494.2" y2="440.71" stroke="#e30a88" stroke-width="1.4" stroke-linecap="butt"/>
<text x="502" y="444.21" font-size="8.3" fill="#c41f80" text-anchor="middle" font-weight="normal">70</text>
<line x1="488.2" y1="426.24" x2="494.2" y2="426.24" stroke="#e30a88" stroke-width="1.4" stroke-linecap="butt"/>
<text x="502" y="429.74" font-size="8.3" fill="#c41f80" text-anchor="middle" font-weight="normal">80</text>
<line x1="318" y1="542.5" x2="318" y2="546.5" stroke="#1c1c1c" stroke-width="1.4" stroke-linecap="butt"/>
<text x="318.8" y="556.4" font-size="8.3" fill="#3a3a3a" text-anchor="middle" font-weight="normal">0</text>
<line x1="362.6" y1="542.5" x2="362.6" y2="546.5" stroke="#1c1c1c" stroke-width="1.4" stroke-linecap="butt"/>
<text x="362" y="556.4" font-size="8.3" fill="#3a3a3a" text-anchor="middle" font-weight="normal">400</text>
<line x1="406.2" y1="542.5" x2="406.2" y2="546.5" stroke="#1c1c1c" stroke-width="1.4" stroke-linecap="butt"/>
<text x="404.3" y="556.4" font-size="8.3" fill="#3a3a3a" text-anchor="middle" font-weight="normal">1200</text>
<line x1="450.1" y1="542.5" x2="450.1" y2="546.5" stroke="#1c1c1c" stroke-width="1.4" stroke-linecap="butt"/>
<text x="447.3" y="556.4" font-size="8.3" fill="#3a3a3a" text-anchor="middle" font-weight="normal">1800</text>
<text x="359.2" y="570.7" font-size="13.1" fill="#1c1c1c" text-anchor="start" font-weight="normal" textLength="93.5" lengthAdjust="spacing">Shear Rate (s<tspan font-size="8" dy="-4.8">-1</tspan><tspan dy="4.8">)</tspan></text>
<text x="0" y="0" transform="translate(289.6,484.7) rotate(-90)" font-size="10.6" fill="#1c1c1c" text-anchor="middle" font-weight="normal" dominant-baseline="central">Active TGF-&#946;1 (ng/mL)</text>
<text x="0" y="0" transform="translate(514.6,483.8) rotate(-90)" font-size="10.4" fill="#c41f80" text-anchor="middle" font-weight="normal" dominant-baseline="central">Total TGF-&#946;1 (ng/mL)</text>
<line x1="385.69" y1="501.72" x2="400.1" y2="516.2" stroke="#1c1c1c" stroke-width="1.6" stroke-linecap="butt"/>
<polygon points="380.4,496.4 385.67,508.79 387.45,503.49 392.76,501.73" fill="#1c1c1c"/>
<text x="386.5" y="527" font-size="10.6" fill="#1c1c1c" text-anchor="start" font-weight="normal">Active</text>
<line x1="426.03" y1="462.33" x2="432.5" y2="472.5" stroke="#e30a88" stroke-width="1.6" stroke-linecap="butt"/>
<polygon points="422,456 424.49,469.23 427.37,464.44 432.93,463.86" fill="#e30a88"/>
<text x="422.8" y="485.7" font-size="10.5" fill="#c41f80" text-anchor="start" font-weight="normal">Total</text>
</svg>
</body></html>
